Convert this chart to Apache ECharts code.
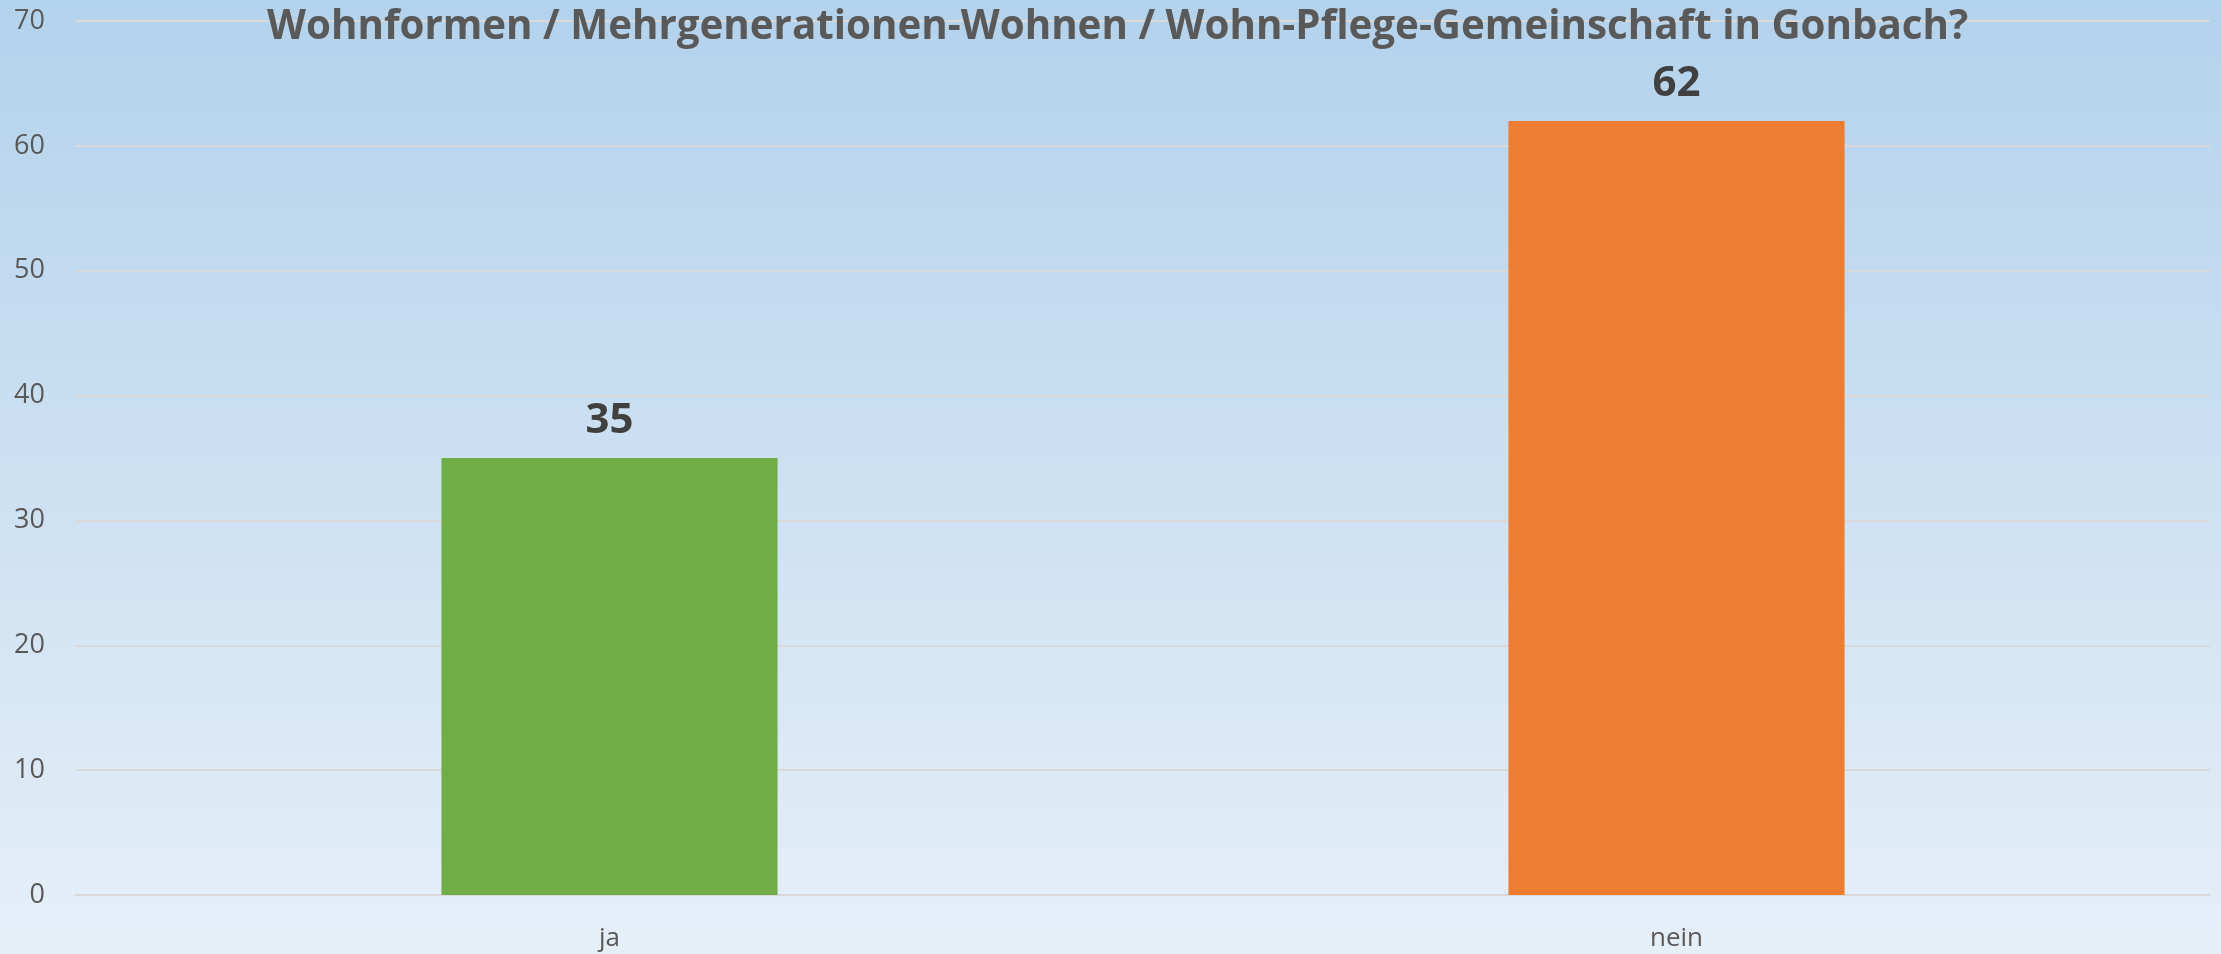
<!DOCTYPE html>
<html>
<head>
<meta charset="utf-8">
<script src="https://cdn.jsdelivr.net/npm/echarts@6/dist/echarts.min.js"></script>
<style>
html,body{margin:0;padding:0;width:2221px;height:954px;overflow:hidden;}
#chart{width:2221px;height:954px;}
</style>
</head>
<body>
<div id="chart"></div>
<script>
const titleText = 'Wohnformen / Mehrgenerationen-Wohnen / Wohn-Pflege-Gemeinschaft in Gonbach?';
const categories = ['ja', 'nein'];
const values = [35, 62];
const yTicks = [0, 10, 20, 30, 40, 50, 60, 70];

const barColors = ['#70AD47', '#ED7D31'];
const chart = echarts.init(document.getElementById('chart'));
chart.setOption({
  animation: false,
  backgroundColor: {
    type: 'linear', x: 0, y: 0, x2: 0, y2: 1,
    colorStops: [{offset: 0, color: '#B3D2EC'}, {offset: 1, color: '#E6EFF8'}]
  },
  title: {
    text: titleText,
    left: 262,
    top: 3,
    textStyle: {fontFamily: 'Open Sans', fontWeight: 'bold', fontSize: 40.3, color: '#595959'}
  },
  grid: {left: 76, right: 11, top: 21, bottom: 59},
  xAxis: {
    type: 'category',
    data: categories,
    axisLine: {lineStyle: {color: '#D9D9D9', width: 2}},
    axisTick: {show: false},
    axisLabel: {fontFamily: 'Open Sans', fontSize: 26, color: '#595959', margin: 31}
  },
  yAxis: {
    type: 'value',
    min: yTicks[0],
    max: yTicks[yTicks.length - 1],
    interval: yTicks[1] - yTicks[0],
    axisLine: {show: false},
    axisTick: {show: false},
    splitLine: {lineStyle: {color: '#D9D9D9', width: 2}},
    axisLabel: {fontFamily: 'Open Sans', fontSize: 27, color: '#595959', margin: 31}
  },
  series: [{
    type: 'bar',
    barWidth: '31.5%',
    data: values.map((v, i) => ({value: v, itemStyle: {color: barColors[i]}})),
    label: {
      show: true,
      position: 'top',
      distance: 16,
      fontFamily: 'Open Sans',
      fontWeight: 'bold',
      fontSize: 42,
      color: '#404040'
    }
  }]
});
</script>
</body>
</html>
